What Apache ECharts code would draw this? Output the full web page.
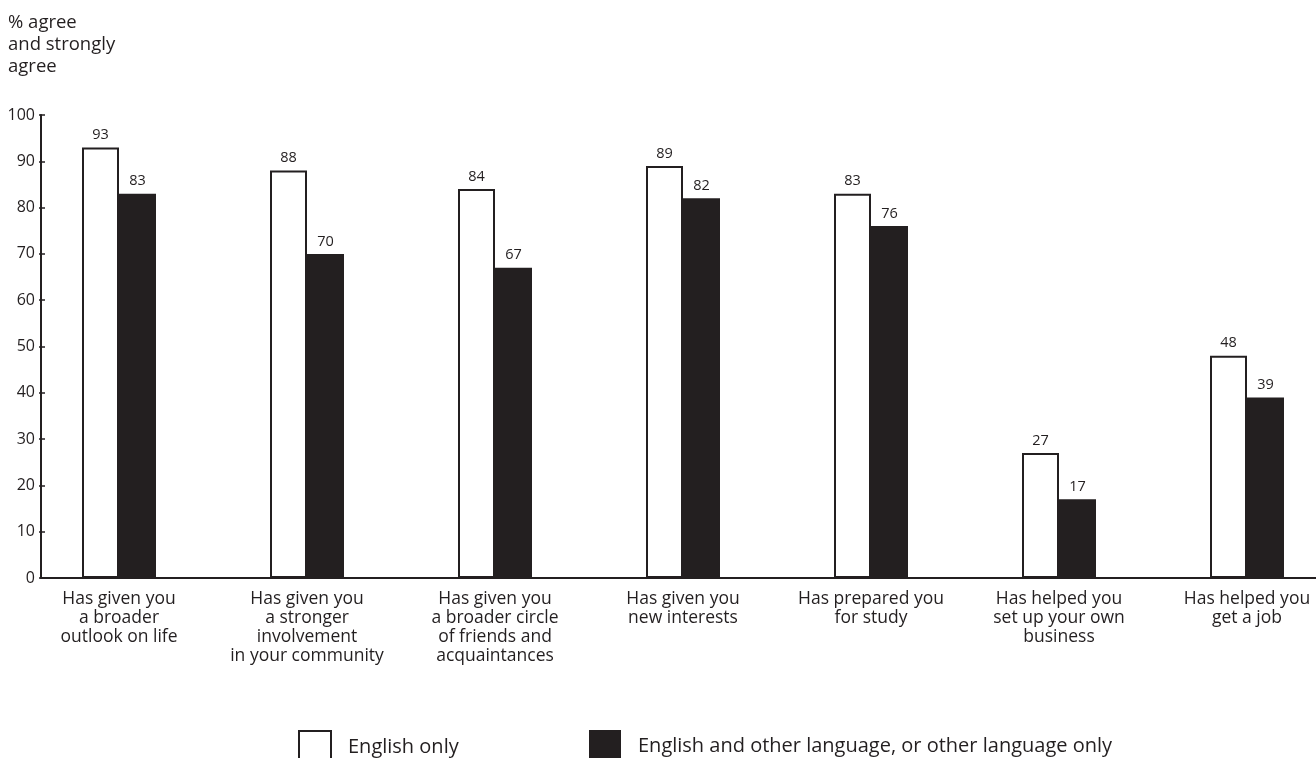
<!DOCTYPE html>
<html>
<head>
<meta charset="utf-8">
<script src="https://cdn.jsdelivr.net/npm/echarts@6/dist/echarts.min.js"></script>
<style>
  html, body { margin: 0; padding: 0; background: #fff; }
  #chart { width: 1316px; height: 758px; }
</style>
</head>
<body>
<div id="chart"></div>
<script>
// categories and values
const categories = [
  "Has given you\na broader\noutlook on life",
  "Has given you\na stronger\ninvolvement\nin your community",
  "Has given you\na broader circle\nof friends and\nacquaintances",
  "Has given you\nnew interests",
  "Has prepared you\nfor study",
  "Has helped you\nset up your own\nbusiness",
  "Has helped you\nget a job"
];
const englishOnly = [93, 88, 84, 89, 83, 27, 48];
const otherLanguage = [83, 70, 67, 82, 76, 17, 39];
const seriesNames = ["English only", "English and other language, or other language only"];

const ink = "#231f20";
const font = "Open Sans";

const chart = echarts.init(document.getElementById("chart"));

const valueLabel = {
  show: true,
  position: "top",
  distance: 5,
  color: ink,
  fontSize: 14.5,
  fontFamily: font
};

// one legend per series so each box sits where the original has it
const legendBase = {
  top: 730,
  padding: 0,
  itemWidth: 32,
  itemHeight: 32,
  icon: "rect",
  textStyle: { fontSize: 20, color: ink, padding: [0, 0, 0, 12], fontFamily: font }
};

chart.setOption({
  animation: false,
  textStyle: { fontFamily: font, color: ink },
  title: {
    text: "% agree\nand strongly\nagree",
    left: 8,
    top: 12,
    padding: 0,
    textStyle: { fontSize: 18.5, fontWeight: "normal", color: ink, lineHeight: 22, fontFamily: font }
  },
  legend: [
    Object.assign({}, legendBase, { left: 298, data: [seriesNames[0]] }),
    Object.assign({}, legendBase, { left: 589, data: [seriesNames[1]] })
  ],
  grid: [
    // bars: category width 188px
    { left: 25, top: 115, width: 1316, height: 463, outerBoundsMode: "none", containLabel: false },
    // axes frame
    { left: 41, top: 115, right: 0, height: 463, outerBoundsMode: "none", containLabel: false }
  ],
  xAxis: [
    {
      type: "category",
      gridIndex: 0,
      data: categories,
      axisLine: { show: false },
      axisTick: { show: false },
      axisLabel: {
        interval: 0,
        margin: 12,
        fontSize: 17.5,
        lineHeight: 19,
        color: ink,
        fontFamily: font
      }
    },
    {
      type: "value",
      gridIndex: 1,
      min: 0,
      max: 1,
      axisLine: { show: true, lineStyle: { color: ink, width: 2 } },
      axisTick: { show: false },
      axisLabel: { show: false },
      splitLine: { show: false }
    }
  ],
  yAxis: [
    {
      type: "value",
      gridIndex: 0,
      min: 0,
      max: 100,
      show: false
    },
    {
      type: "value",
      gridIndex: 1,
      position: "left",
      min: 0,
      max: 100,
      interval: 10,
      axisLine: { show: true, lineStyle: { color: ink, width: 2 } },
      axisTick: { show: true, length: 2, lineStyle: { color: ink, width: 1.5 } },
      axisLabel: { margin: 6, fontSize: 16, color: ink, fontFamily: font },
      splitLine: { show: false }
    },
    {
      type: "value",
      gridIndex: 1,
      position: "left",
      min: 0,
      max: 100,
      interval: 10,
      axisLine: { show: false },
      axisTick: { show: true, inside: true, length: 4, lineStyle: { color: ink, width: 1.5 } },
      axisLabel: { show: false },
      splitLine: { show: false }
    }
  ],
  series: [
    {
      name: seriesNames[0],
      type: "bar",
      xAxisIndex: 0,
      yAxisIndex: 0,
      data: englishOnly,
      barWidth: 37,
      barGap: "0%",
      itemStyle: { color: "#ffffff", borderColor: ink, borderWidth: 2 },
      label: valueLabel
    },
    {
      name: seriesNames[1],
      type: "bar",
      xAxisIndex: 0,
      yAxisIndex: 0,
      data: otherLanguage,
      barWidth: 37,
      barGap: "0%",
      itemStyle: { color: ink },
      label: valueLabel
    }
  ]
});
</script>
</body>
</html>
